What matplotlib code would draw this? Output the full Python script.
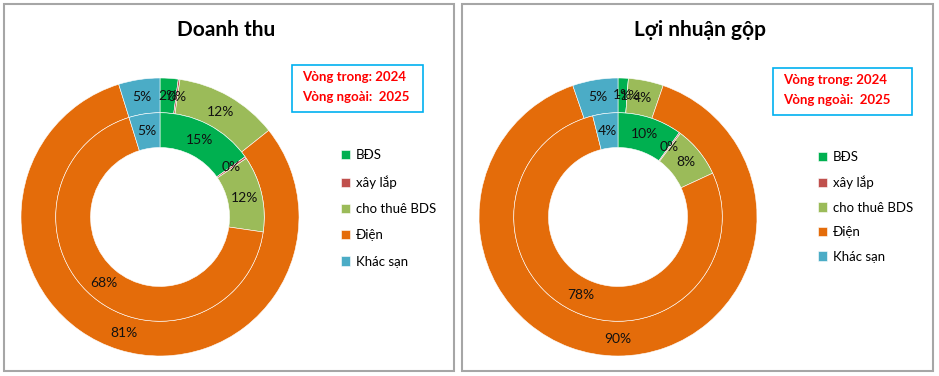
import matplotlib
matplotlib.use("Agg")
import matplotlib.pyplot as plt
from matplotlib.patches import Rectangle

plt.rcParams['font.family'] = ['Lato', 'DejaVu Sans']

segments = ['BĐS', 'xây lắp', 'cho thuê BDS', 'Điện', 'Khác sạn']
colors = ['#00b050', '#c0504d', '#9bbb59', '#e46c0a', '#4bacc6']

# doanh thu (%), inner ring = 2024, outer ring = 2025
dt_2024 = [15.2, 0.3, 11.8, 67.9, 4.8]
dt_2025 = [2.1, 0.2, 12.0, 80.9, 4.8]
# loi nhuan gop (%)
ln_2024 = [10.0, 0.2, 7.9, 78.0, 3.9]
ln_2025 = [1.2, -0.6, 4.1, 90.0, 5.3]

W, H = 939, 376
fig = plt.figure(figsize=(W/100, H/100), dpi=100)

def fx(px): return px / W
def fy(py): return 1 - py / H

def pct_labels(vals):
    it = iter(['%d%%' % round(v) for v in vals])
    return lambda p: next(it)

def donut(cx, cy, r, inner, outer):
    ax = fig.add_axes([fx(cx - r), fy(cy + r), 2*r/W, 2*r/H])
    for vals, radius in [(outer, 1.0), (inner, 0.75)]:
        # negative shares get no slice, only their label
        sizes = [max(v, 0) for v in vals]
        ws, ts, ats = ax.pie(sizes, radius=radius, colors=colors, startangle=90,
                             counterclock=False, autopct=pct_labels(vals),
                             pctdistance=(radius - 0.125) / radius,
                             wedgeprops=dict(width=0.25, edgecolor='white', linewidth=0.4),
                             textprops=dict(fontsize=10, color='#111111'))
    ax.set_xlim(-1, 1); ax.set_ylim(-1, 1)
    ax.set_aspect('equal')
    ax.axis('off')
    return ws

def panel(x0, x1, title, tx, cx, inner, outer, leg_x, leg_y, spacing, box):
    fig.patches.append(Rectangle((fx(x0), fy(371)), fx(x1) - fx(x0), fy(4) - fy(371),
                                 transform=fig.transFigure, fill=False,
                                 edgecolor='#a6a6a6', linewidth=1.5))
    fig.text(fx(tx), fy(30), title, ha='center', va='center',
             fontsize=15, fontweight='bold', color='black')
    ws = donut(cx, 217, 139, inner, outer)
    fig.legend(ws, segments, loc='upper left', bbox_to_anchor=(fx(leg_x), fy(leg_y)),
               frameon=False, fontsize=9.5, handlelength=0.7, handleheight=0.7,
               handletextpad=0.4, labelspacing=spacing, borderpad=0, borderaxespad=0)
    bx0, by0, bx1, by1 = box
    fig.patches.append(Rectangle((fx(bx0), fy(by1)), fx(bx1) - fx(bx0), fy(by0) - fy(by1),
                                 transform=fig.transFigure, fill=False,
                                 edgecolor='#00b0f0', linewidth=1.2))
    fig.text(fx(bx0 + 10), fy(by0 + 12), 'Vòng trong: 2024', ha='left', va='center',
             fontsize=9.5, fontweight='bold', color='#ff0000')
    fig.text(fx(bx0 + 10), fy(by0 + 32), 'Vòng ngoài:  2025', ha='left', va='center',
             fontsize=9.5, fontweight='bold', color='#ff0000')

panel(4, 454, 'Doanh thu', 226, 160, dt_2024, dt_2025, 341, 149, 1.08, (292, 65, 423, 112))
panel(462, 933, 'Lợi nhuận gộp', 700, 618, ln_2024, ln_2025, 818, 151, 0.95, (773, 68, 912, 115))

fig.savefig('out.png', dpi=100)
